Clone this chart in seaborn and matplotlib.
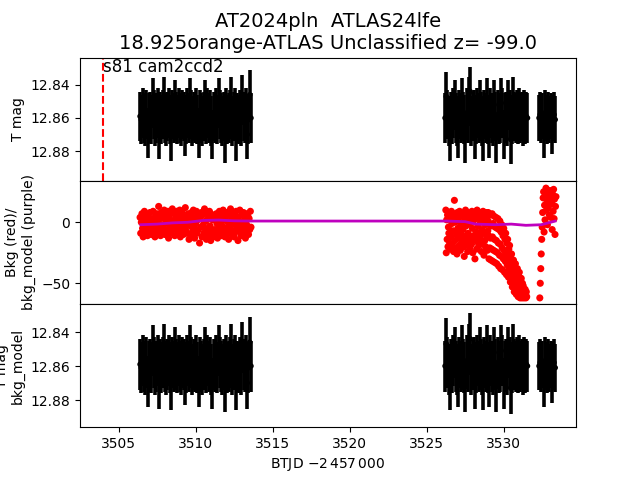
import numpy as np
import pandas as pd
import matplotlib
matplotlib.use("Agg")
import matplotlib.pyplot as plt
import matplotlib.transforms as mtransforms
import seaborn as sns

# ---- data ----
title_line1 = "AT2024pln  ATLAS24lfe"
title_line2 = "18.925orange-ATLAS Unclassified z= -99.0"
sector_label = "s81 cam2ccd2"
marker_time = 3504.0

# segment time ranges (regular TESS cadence within each segment)
mag_ranges = [(3506.40, 3513.60), (3526.20, 3531.55), (3532.30, 3533.35)]
bkg_ranges = [(3506.40, 3513.60), (3526.25, 3529.00), (3529.00, 3531.50), (3532.35, 3533.40)]

mag_seg1 = [12.859, 12.861, 12.857, 12.860, 12.862, 12.858, 12.869, 12.860, 12.859, 12.861,
            12.851, 12.858, 12.862, 12.860, 12.857, 12.870, 12.859, 12.861, 12.858, 12.850,
            12.860, 12.862, 12.859, 12.857, 12.861, 12.871, 12.858, 12.860, 12.852, 12.859,
            12.861, 12.857, 12.860, 12.862, 12.858, 12.859, 12.868, 12.861, 12.857, 12.860,
            12.851, 12.858, 12.862, 12.859, 12.860, 12.857, 12.861, 12.869, 12.858, 12.860,
            12.862, 12.859, 12.852, 12.861, 12.857, 12.860, 12.858, 12.862, 12.870, 12.859,
            12.860, 12.857, 12.861, 12.851, 12.858, 12.860, 12.862, 12.859, 12.872, 12.857,
            12.861, 12.860, 12.858, 12.850, 12.862, 12.859, 12.857, 12.871, 12.860, 12.861,
            12.858, 12.862, 12.849, 12.859, 12.860, 12.857, 12.870, 12.861, 12.846, 12.860]
mag_seg2 = [12.860, 12.847, 12.858, 12.862, 12.871, 12.859, 12.861, 12.857, 12.852, 12.860,
            12.862, 12.869, 12.858, 12.860, 12.851, 12.859, 12.861, 12.872, 12.857, 12.860,
            12.850, 12.844, 12.862, 12.859, 12.858, 12.870, 12.861, 12.857, 12.860, 12.852,
            12.859, 12.862, 12.871, 12.858, 12.860, 12.851, 12.861, 12.869, 12.857, 12.860,
            12.862, 12.852, 12.859, 12.872, 12.858, 12.861, 12.860, 12.851, 12.857, 12.870,
            12.860, 12.859, 12.862, 12.852, 12.858, 12.873, 12.861, 12.850, 12.859, 12.860,
            12.858, 12.861, 12.857, 12.860, 12.859, 12.862, 12.858, 12.861, 12.859, 12.860]
mag_seg3 = [12.860, 12.858, 12.861, 12.859, 12.870, 12.857, 12.860, 12.862, 12.858, 12.861,
            12.859, 12.868, 12.860, 12.858, 12.861]
mag_err = [0.015, 0.015, 0.014]

bkg_seg1 = [4, -9, 0, 7, -5, -12, 2, 9, -3, -8, 5, -1, -11, 6, 1, -6, 8, -4, -10, 3,
            -2, 9, -7, 1, -12, 5, -4, 7, -9, 0, 13, -6, 3, -11, 8, -2, -8, 4, -5, 10,
            -10, 2, 6, -7, -1, 9, -13, 4, -4, 8, -9, 1, 11, -6, -2, 7, -11, 3, -5, 9,
            0, -8, 5, -3, 10, -12, 2, -6, 8, -1, -10, 6, -4, 12, -7, 3, -9, 0, 7, -14,
            5, -3, -11, 8, 1, -7, 10, -5, -13, 4, -1, 9, -9, 2, -6, 7, -17, 3, -4, 8,
            -12, 6, -2, -9, 11, -5, 1, -14, 7, -8, 3, -11, 9, -3, -15, 5, -7, 2, -12, 6,
            -6, 3, -10, 7, -1, -13, 5, -4, 9, -8, 1, -11, 6, -3, 10, -7, 2, -12, 4, -5,
            8, -9, 0, -14, 6, -2, 11, -6, 3, -10, 7, -1, -12, 5, -8, 9, -4, 1, -15, 4,
            -7, 10, -3, -11, 6, 0, -9, 8, -5, 2, -13, 7, -2, -8, 5, -10, 3, -6, 9, -4]
bkg_seg2a = [10, -25, 2, -14, 6, -20, -4, -9, 8, -17,
             -22, 5, -12, 9, -1, -18, 3, -7, -24, 7,
             18, -15, 0, -21, 4, -10, -26, 8, -5, -13,
             1, -19, 9, -8, -23, 5, -2, -16, 7, -11,
             -6, 6, -20, -28, 3, -13, 10, -3, -17, 0,
             8, -24, -9, 4, -15, -1, -21, 6, -12, 2,
             -18, 9, -5, -25, 1, -11, 7, -14, -30, 4,
             3, -8, -22, 10, -16, -3, 5, -19, -10, 8,
             -13, 0, 7, -24, -6, 2, -18, 9, -9, -27,
             6, -15, -2, -20, 4, -11, 8, -23, -7, 1]
bkg_seg2b = [8, -11, -30, -2, -21,  6, -13, -31, -3, -22,  7, -12, -32, -1, -23,
             5, -14, -33, -4, -24,  4, -15, -34, -5, -25,  3, -17, -36, -6, -27,
             1, -18, -38, -8, -28,  -2, -21, -39, -11, -30,  -5, -23, -41, -14, -32,
             -9, -26, -43, -17, -35,  -14, -30, -45, -22, -38,  -19, -34, -49, -27, -42,
             -26, -40, -53, -33, -47,  -31, -44, -57, -37, -51,  -34, -47, -59, -40, -53,
             -38, -50, -61, -44, -56,  -41, -52, -62, -46, -57,  -46, -54, -62, -50, -58,
             -52, -57, -62, -55, -60,  -55, -59, -62, -57, -61]
bkg_seg3 = [-62, -50, -38, -26, -14, -4, 8, 20, 25, -8, 14, 2, 22, 28, 10, 18, -2, 24, 12, 20,
            6, 26, 15, 4, 18, 16, -6, 23, 9, 27, 3, 19, -10, 13, 21]

model_time = [3506.45, 3507.5, 3508.5, 3509.5, 3510.5, 3511.5, 3512.5, 3513.55,
              3526.3, 3527.5, 3528.2, 3529.5, 3530.5, 3531.45, 3532.45, 3533.35]
model_val = [-2.0, -1.5, -0.5, 0.0, 1.5, 1.8, 1.2, 1.0,
             1.0, 0.5, -1.5, -2.0, -1.5, -2.5, -2.0, 1.0]

# ---- build tables ----
def seg_times(rng, n):
    return np.linspace(rng[0], rng[1], n)

mags = [mag_seg1, mag_seg2, mag_seg3]
lc = pd.concat([pd.DataFrame({"t": seg_times(r, len(m)), "mag": m, "err": e})
                for r, m, e in zip(mag_ranges, mags, mag_err)], ignore_index=True)
bkgs = [bkg_seg1, bkg_seg2a, bkg_seg2b, bkg_seg3]
bk = pd.concat([pd.DataFrame({"t": seg_times(r, len(b)), "bkg": b})
                for r, b in zip(bkg_ranges, bkgs)], ignore_index=True)
model = pd.DataFrame({"t": model_time, "val": model_val})

fig, axes = plt.subplots(3, 1, sharex=True, figsize=(6.4, 4.8), dpi=100)
fig.subplots_adjust(hspace=0)
ax1, ax2, ax3 = axes

for ax in (ax1, ax3):
    ax.errorbar(lc["t"], lc["mag"], yerr=lc["err"], fmt="none", ecolor="k",
                elinewidth=2.6, capsize=0, zorder=2)
    sns.scatterplot(data=lc, x="t", y="mag", color="k", s=16, edgecolor="none", ax=ax, zorder=3)
    ax.set_yticks([12.84, 12.86, 12.88])

ax1.set_ylim(12.898, 12.8235)
ax3.set_ylim(12.896, 12.8235)
ax1.axvline(marker_time, color="r", ls="--", lw=1.5)
trans = mtransforms.blended_transform_factory(ax1.transData, ax1.transAxes)
ax1.text(marker_time, 1.0, sector_label, transform=trans, ha="left", va="top", fontsize=12)
ax1.set_ylabel("T mag")
ax1.set_title(title_line1 + "\n" + title_line2, fontsize=14)

sns.scatterplot(data=bk, x="t", y="bkg", color="red", s=26, edgecolor="none", ax=ax2, zorder=2)
sns.lineplot(data=model, x="t", y="val", color="#bf00bf", lw=2, sort=False, ax=ax2, zorder=3)
ax2.set_ylim(-67, 34)
ax2.set_yticks([-50, 0])
ax2.set_ylabel("Bkg (red)/\nbkg_model (purple)")

ax3.set_ylabel("T mag\nbkg_model")
ax3.set_xlabel(r"BTJD $-2\,457\,000$")
ax3.set_xlim(3502.5, 3534.7)
ax3.set_xticks([3505, 3510, 3515, 3520, 3525, 3530])

for ax in axes:
    if ax is not ax3:
        ax.set_xlabel("")

fig.savefig("out.png", dpi=100)
